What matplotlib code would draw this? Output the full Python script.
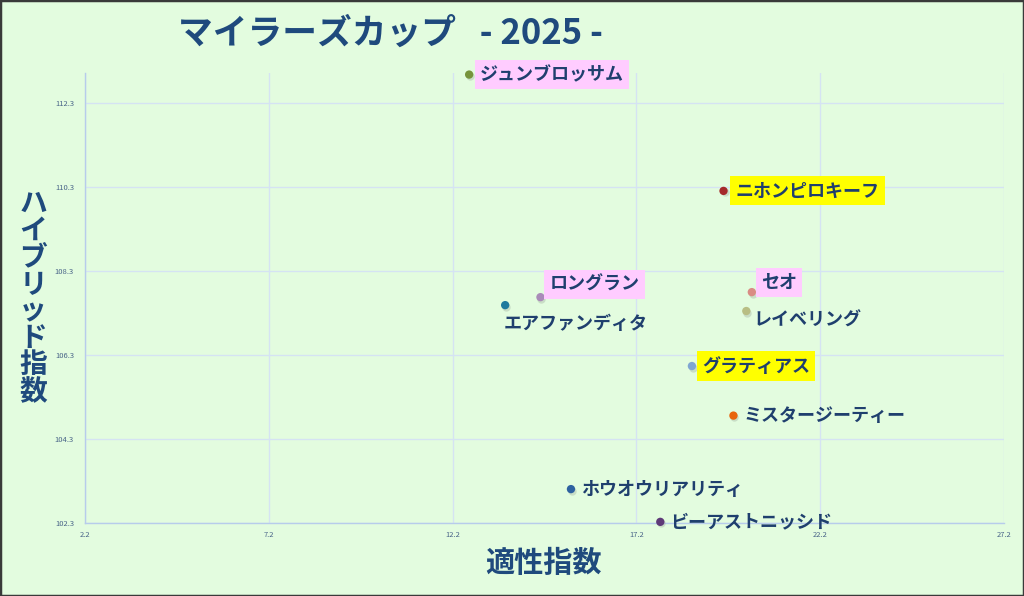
import matplotlib
matplotlib.use("Agg")
import matplotlib.pyplot as plt
from matplotlib.patches import Rectangle

plt.rcParams['font.family'] = ['Noto Sans CJK JP', 'DejaVu Sans']

# ---- data ----
horses = ["ジュンブロッサム", "ニホンピロキーフ", "セオ", "レイベリング", "ロングラン",
          "エアファンディタ", "グラティアス", "ミスタージーティー", "ホウオウリアリティ", "ビーアストニッシド"]
aptitude = [12.65, 19.57, 20.34, 20.19, 14.59, 13.63, 18.71, 19.84, 15.42, 17.85]
hybrid = [112.97, 110.20, 107.79, 107.34, 107.67, 107.48, 106.03, 104.85, 103.10, 102.32]
x_ticks = [2.2, 7.2, 12.2, 17.2, 22.2, 27.2]
y_ticks = [102.3, 104.3, 106.3, 108.3, 110.3, 112.3]
title_text = "マイラーズカップ   - 2025 -"
x_label = "適性指数"
y_label = "ハイブリッド指数"

# ---- styles ----
point_colors = ["#77933C", "#A52A2A", "#D98C84", "#B8BE84", "#A98BB8",
                "#1F7A9E", "#7FA6D2", "#E8650C", "#2E62A0", "#5E3A78"]
highlight = ["#FFCCFF", "#FFFF00", "#FFCCFF", None, "#FFCCFF",
             None, "#FFFF00", None, None, None]
offsets = [(11, 0), (12, 0), (9, 10), (7, -9), (9, 13),
           (-2, -18), (10, 0), (10, 0), (10, 0), (10, 0)]

bg = "#E3FCDF"
navy = "#1F3F6E"
grid_c = "#D5E3F3"

fig = plt.figure(figsize=(10.24, 5.96), dpi=100, facecolor=bg)
ax = fig.add_axes([85/1024, 1-522.7/596, (1004-85)/1024, (522.7-73.3)/596])
ax.set_facecolor(bg)
ax.set_xlim(2.2, 27.2)
ax.set_ylim(102.3, 113.0)
ax.set_xticks(x_ticks)
ax.set_yticks(y_ticks)
ax.set_xticklabels([f"{v:.1f}" for v in x_ticks])
ax.set_yticklabels([f"{v:.1f}" for v in y_ticks])
ax.tick_params(axis='both', length=0, labelsize=5.5, labelcolor="#4A6589")
ax.tick_params(axis='x', pad=6)
ax.tick_params(axis='y', pad=8)
ax.grid(True, color=grid_c, linewidth=1.0)
ax.set_axisbelow(True)
for s in ['top', 'right']:
    ax.spines[s].set_visible(False)
for s in ['left', 'bottom']:
    ax.spines[s].set_color("#B7CCEB")
    ax.spines[s].set_linewidth(1.0)

# shadow + points
ax.scatter(aptitude, hybrid, s=36, c="#9aa79a", alpha=0.35, zorder=3,
           linewidths=0, clip_on=False,
           transform=ax.transData + matplotlib.transforms.ScaledTranslation(1/100, -1.5/100, fig.dpi_scale_trans))
ax.scatter(aptitude, hybrid, s=36, c=point_colors, zorder=4, linewidths=0, clip_on=False)

for name, xv, yv, hl, (dx, dy) in zip(horses, aptitude, hybrid, highlight, offsets):
    bbox = None
    if hl:
        bbox = dict(boxstyle="square,pad=0.28", facecolor=hl, edgecolor='none')
    ax.annotate(name, (xv, yv), xytext=(dx, dy), textcoords='offset pixels',
                ha='left', va='center', fontsize=13, color=navy, fontweight='bold',
                bbox=bbox, zorder=5, annotation_clip=False)

fig.text(178/1024, 1-33/596, title_text, ha='left', va='center',
         fontsize=25, fontweight='bold', color="#1F4A7D")
fig.text(544/1024, 1-563/596, x_label, ha='center', va='center',
         fontsize=21, fontweight='bold', color="#1F4A7D")
fig.text(33/1024, 1-298/596, "\n".join(y_label), ha='center', va='center',
         fontsize=20, fontweight='bold', color="#1F4A7D", linespacing=0.95)

# border
fig.patches.append(Rectangle((0, 0), 1, 1, transform=fig.transFigure, fill=False,
                             edgecolor="#3a3a3a", linewidth=2.5))

fig.savefig("out.png", dpi=100, facecolor=bg)
